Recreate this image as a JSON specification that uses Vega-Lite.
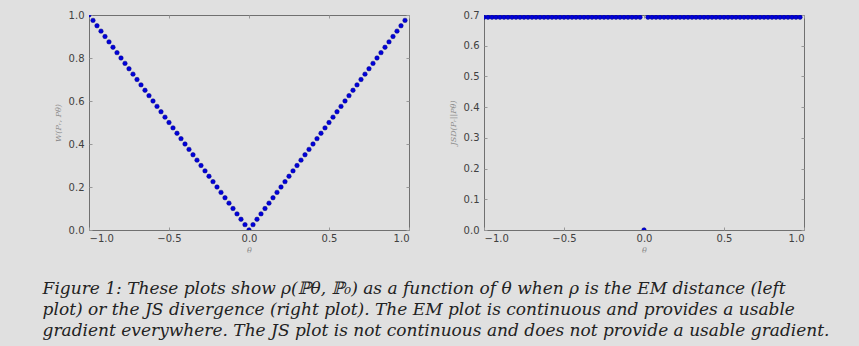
{
  "$schema": "https://vega.github.io/schema/vega-lite/v6.json",
  "background": "#e0e0e0",
  "padding": {"left": 42, "top": 9, "right": 60, "bottom": 15},
  "config": {
    "view": {"stroke": "#707070", "strokeWidth": 1},
    "axis": {"grid": false, "domain": false, "tickSize": -3, "tickColor": "#999999", "labelFont": "DejaVu Sans", "labelFontSize": 10, "labelColor": "#404040", "labelPadding": 8, "titleFont": "DejaVu Serif", "titleFontStyle": "italic", "titleFontWeight": "normal", "titleFontSize": 8, "titleColor": "#8a8a8a", "titlePadding": 6},
    "axisX": {"labelPadding": 6, "titlePadding": 3}
  },
  "datasets": {
    "d": [
      {"t": -1, "w": 1, "jsd": 0.693},
      {"t": -0.975, "w": 0.975, "jsd": 0.693},
      {"t": -0.95, "w": 0.95, "jsd": 0.693},
      {"t": -0.925, "w": 0.925, "jsd": 0.693},
      {"t": -0.9, "w": 0.9, "jsd": 0.693},
      {"t": -0.875, "w": 0.875, "jsd": 0.693},
      {"t": -0.85, "w": 0.85, "jsd": 0.693},
      {"t": -0.825, "w": 0.825, "jsd": 0.693},
      {"t": -0.8, "w": 0.8, "jsd": 0.693},
      {"t": -0.775, "w": 0.775, "jsd": 0.693},
      {"t": -0.75, "w": 0.75, "jsd": 0.693},
      {"t": -0.725, "w": 0.725, "jsd": 0.693},
      {"t": -0.7, "w": 0.7, "jsd": 0.693},
      {"t": -0.675, "w": 0.675, "jsd": 0.693},
      {"t": -0.65, "w": 0.65, "jsd": 0.693},
      {"t": -0.625, "w": 0.625, "jsd": 0.693},
      {"t": -0.6, "w": 0.6, "jsd": 0.693},
      {"t": -0.575, "w": 0.575, "jsd": 0.693},
      {"t": -0.55, "w": 0.55, "jsd": 0.693},
      {"t": -0.525, "w": 0.525, "jsd": 0.693},
      {"t": -0.5, "w": 0.5, "jsd": 0.693},
      {"t": -0.475, "w": 0.475, "jsd": 0.693},
      {"t": -0.45, "w": 0.45, "jsd": 0.693},
      {"t": -0.425, "w": 0.425, "jsd": 0.693},
      {"t": -0.4, "w": 0.4, "jsd": 0.693},
      {"t": -0.375, "w": 0.375, "jsd": 0.693},
      {"t": -0.35, "w": 0.35, "jsd": 0.693},
      {"t": -0.325, "w": 0.325, "jsd": 0.693},
      {"t": -0.3, "w": 0.3, "jsd": 0.693},
      {"t": -0.275, "w": 0.275, "jsd": 0.693},
      {"t": -0.25, "w": 0.25, "jsd": 0.693},
      {"t": -0.225, "w": 0.225, "jsd": 0.693},
      {"t": -0.2, "w": 0.2, "jsd": 0.693},
      {"t": -0.175, "w": 0.175, "jsd": 0.693},
      {"t": -0.15, "w": 0.15, "jsd": 0.693},
      {"t": -0.125, "w": 0.125, "jsd": 0.693},
      {"t": -0.1, "w": 0.1, "jsd": 0.693},
      {"t": -0.075, "w": 0.075, "jsd": 0.693},
      {"t": -0.05, "w": 0.05, "jsd": 0.693},
      {"t": -0.025, "w": 0.025, "jsd": 0.693},
      {"t": 0, "w": 0, "jsd": 0},
      {"t": 0.025, "w": 0.025, "jsd": 0.693},
      {"t": 0.05, "w": 0.05, "jsd": 0.693},
      {"t": 0.075, "w": 0.075, "jsd": 0.693},
      {"t": 0.1, "w": 0.1, "jsd": 0.693},
      {"t": 0.125, "w": 0.125, "jsd": 0.693},
      {"t": 0.15, "w": 0.15, "jsd": 0.693},
      {"t": 0.175, "w": 0.175, "jsd": 0.693},
      {"t": 0.2, "w": 0.2, "jsd": 0.693},
      {"t": 0.225, "w": 0.225, "jsd": 0.693},
      {"t": 0.25, "w": 0.25, "jsd": 0.693},
      {"t": 0.275, "w": 0.275, "jsd": 0.693},
      {"t": 0.3, "w": 0.3, "jsd": 0.693},
      {"t": 0.325, "w": 0.325, "jsd": 0.693},
      {"t": 0.35, "w": 0.35, "jsd": 0.693},
      {"t": 0.375, "w": 0.375, "jsd": 0.693},
      {"t": 0.4, "w": 0.4, "jsd": 0.693},
      {"t": 0.425, "w": 0.425, "jsd": 0.693},
      {"t": 0.45, "w": 0.45, "jsd": 0.693},
      {"t": 0.475, "w": 0.475, "jsd": 0.693},
      {"t": 0.5, "w": 0.5, "jsd": 0.693},
      {"t": 0.525, "w": 0.525, "jsd": 0.693},
      {"t": 0.55, "w": 0.55, "jsd": 0.693},
      {"t": 0.575, "w": 0.575, "jsd": 0.693},
      {"t": 0.6, "w": 0.6, "jsd": 0.693},
      {"t": 0.625, "w": 0.625, "jsd": 0.693},
      {"t": 0.65, "w": 0.65, "jsd": 0.693},
      {"t": 0.675, "w": 0.675, "jsd": 0.693},
      {"t": 0.7, "w": 0.7, "jsd": 0.693},
      {"t": 0.725, "w": 0.725, "jsd": 0.693},
      {"t": 0.75, "w": 0.75, "jsd": 0.693},
      {"t": 0.775, "w": 0.775, "jsd": 0.693},
      {"t": 0.8, "w": 0.8, "jsd": 0.693},
      {"t": 0.825, "w": 0.825, "jsd": 0.693},
      {"t": 0.85, "w": 0.85, "jsd": 0.693},
      {"t": 0.875, "w": 0.875, "jsd": 0.693},
      {"t": 0.9, "w": 0.9, "jsd": 0.693},
      {"t": 0.925, "w": 0.925, "jsd": 0.693},
      {"t": 0.95, "w": 0.95, "jsd": 0.693},
      {"t": 0.975, "w": 0.975, "jsd": 0.693}
    ]
  },
  "title": {
    "text": [
      "Figure 1: These plots show ρ(ℙθ, ℙ₀) as a function of θ when ρ is the EM distance (left",
      "plot) or the JS divergence (right plot). The EM plot is continuous and provides a usable",
      "gradient everywhere. The JS plot is not continuous and does not provide a usable gradient."
    ],
    "orient": "bottom",
    "anchor": "start",
    "font": "DejaVu Serif",
    "fontStyle": "italic",
    "fontWeight": "normal",
    "fontSize": 17,
    "lineHeight": 21,
    "color": "#222222",
    "offset": 26,
    "dx": -11
  },
  "spacing": 38,
  "hconcat": [
    {
      "width": 320,
      "height": 215,
      "data": {"name": "d"},
      "layer": [
        {
          "mark": {"type": "circle", "size": 20, "color": "#0000dd", "stroke": "#000080", "strokeWidth": 0.5, "opacity": 1, "clip": true},
          "encoding": {
            "x": {"field": "t", "type": "quantitative", "scale": {"domain": [-1, 1], "nice": false, "zero": false}, "axis": {"title": "θ", "values": [-1, -0.5, 0, 0.5, 1], "format": ".1f"}},
            "y": {"field": "w", "type": "quantitative", "scale": {"domain": [0, 1], "nice": false}, "axis": {"title": "W(Pᵣ, Pθ)", "values": [0, 0.2, 0.4, 0.6, 0.8, 1], "format": ".1f"}}
          }
        },
        {
          "mark": {"type": "point", "opacity": 0},
          "encoding": {
            "x": {"field": "t", "type": "quantitative", "axis": {"orient": "top", "title": null, "labels": false, "values": [-1, -0.5, 0, 0.5, 1]}},
            "y": {"field": "w", "type": "quantitative", "axis": {"orient": "right", "title": null, "labels": false, "values": [0, 0.2, 0.4, 0.6, 0.8, 1]}}
          }
        }
      ],
      "resolve": {"axis": {"x": "independent", "y": "independent"}}
    },
    {
      "width": 320,
      "height": 215,
      "data": {"name": "d"},
      "layer": [
        {
          "mark": {"type": "circle", "size": 20, "color": "#0000dd", "stroke": "#000080", "strokeWidth": 0.5, "opacity": 1, "clip": true},
          "encoding": {
            "x": {"field": "t", "type": "quantitative", "scale": {"domain": [-1, 1], "nice": false, "zero": false}, "axis": {"title": "θ", "values": [-1, -0.5, 0, 0.5, 1], "format": ".1f"}},
            "y": {"field": "jsd", "type": "quantitative", "scale": {"domain": [0, 0.7], "nice": false}, "axis": {"title": "JSD(Pᵣ||Pθ)", "values": [0, 0.1, 0.2, 0.3, 0.4, 0.5, 0.6, 0.7], "format": ".1f"}}
          }
        },
        {
          "mark": {"type": "point", "opacity": 0},
          "encoding": {
            "x": {"field": "t", "type": "quantitative", "axis": {"orient": "top", "title": null, "labels": false, "values": [-1, -0.5, 0, 0.5, 1]}},
            "y": {"field": "jsd", "type": "quantitative", "axis": {"orient": "right", "title": null, "labels": false, "values": [0, 0.1, 0.2, 0.3, 0.4, 0.5, 0.6, 0.7]}}
          }
        }
      ],
      "resolve": {"axis": {"x": "independent", "y": "independent"}}
    }
  ]
}
